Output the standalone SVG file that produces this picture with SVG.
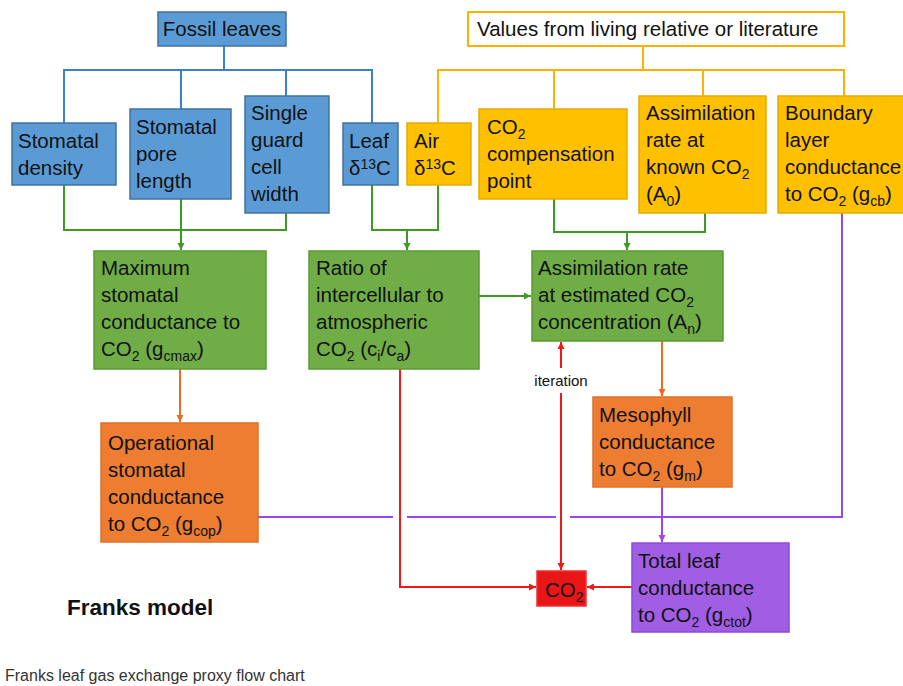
<svg xmlns="http://www.w3.org/2000/svg" width="903" height="686" viewBox="0 0 903 686">
<style>
text{font-family:"Liberation Sans",Arial,sans-serif;font-size:20.5px;fill:#111}
.sub{font-size:14px}
.blue{fill:#5B9BD5;stroke:#41719C;stroke-width:1.5}
.gold{fill:#FFC000;stroke:#E6AC00;stroke-width:1.5}
.green{fill:#70AD47;stroke:#5A9A32;stroke-width:1.5}
.orange{fill:#ED7D31;stroke:#E0702A;stroke-width:1.5}
.purple{fill:#A05EE4;stroke:#8E4AD8;stroke-width:1.5}
.red{fill:#E81616;stroke:#F03030;stroke-width:1.5}
.c{fill:none;stroke-width:2}
.lb{stroke:#3B82CC}.lo{stroke:#FFB000}.lg{stroke:#3F9A23}.lor{stroke:#F26B1D}.lp{stroke:#9A45EE}.lr{stroke:#F01818}
</style>
<defs>
<marker id="ag" markerWidth="8" markerHeight="8" refX="7" refY="4" orient="auto" markerUnits="userSpaceOnUse"><path d="M0,0.5 L7,4 L0,7.5z" fill="#3F9A23"/></marker>
<marker id="ao" markerWidth="8" markerHeight="8" refX="7" refY="4" orient="auto" markerUnits="userSpaceOnUse"><path d="M0,0.5 L7,4 L0,7.5z" fill="#F26B1D"/></marker>
<marker id="ap" markerWidth="8" markerHeight="8" refX="7" refY="4" orient="auto" markerUnits="userSpaceOnUse"><path d="M0,0.5 L7,4 L0,7.5z" fill="#9A45EE"/></marker>
<marker id="ar" markerWidth="8" markerHeight="8" refX="7" refY="4" orient="auto" markerUnits="userSpaceOnUse"><path d="M0,0.5 L7,4 L0,7.5z" fill="#F01818"/></marker>
</defs>
<rect width="903" height="686" fill="#fff"/>

<g id="connectors">
<path class="c lb" d="M224 46V70M64 123V70H372V123M181 70V109M286 70V96"/>
<path class="c lo" d="M643 46V70M438 123V70H844V96M554 70V109M703 70V96"/>
<path class="c lg" d="M64 185V230H286V213M181 199V250" marker-end="url(#ag)"/>
<path class="c lg" d="M372 185V230H438V185M407 230V250" marker-end="url(#ag)"/>
<path class="c lg" d="M554 199V232H705V213M627 232V250" marker-end="url(#ag)"/>
<path class="c lg" d="M479 296H531" marker-end="url(#ag)"/>
<path class="c lor" d="M180 369V422" marker-end="url(#ao)"/>
<path class="c lor" d="M662 341V396" marker-end="url(#ao)"/>
<path class="c lp" d="M842 213V517H570M556 517H407M393 517H258"/>
<path class="c lp" d="M662 487V542" marker-end="url(#ap)"/>
<path class="c lr" d="M400 369V587H536" marker-end="url(#ar)"/>
<path class="c lr" d="M632 587H587" marker-end="url(#ar)"/>
<path class="c lr" d="M561 368V342" marker-end="url(#ar)"/>
<path class="c lr" d="M561 393V570" marker-end="url(#ar)"/>
<text x="561" y="386" text-anchor="middle" style="font-size:15px">iteration</text>
</g>

<g id="fossil-leaves"><rect class="blue" x="158" y="12" width="128" height="34"/><text x="222" y="36" text-anchor="middle">Fossil leaves</text></g>
<g id="values"><rect x="468" y="12" width="376" height="34" fill="#fff" stroke="#FFB000" stroke-width="2"/><text x="477" y="36">Values from living relative or literature</text></g>

<g id="stomatal-density"><rect class="blue" x="12" y="123" width="104" height="62"/><text x="18" y="148">Stomatal</text><text x="18" y="175">density</text></g>
<g id="pore-length"><rect class="blue" x="130" y="109" width="101" height="90"/><text x="136" y="134">Stomatal</text><text x="136" y="161">pore</text><text x="136" y="188">length</text></g>
<g id="guard-cell"><rect class="blue" x="245" y="96" width="84" height="117"/><text x="251" y="120">Single</text><text x="251" y="147">guard</text><text x="251" y="174">cell</text><text x="251" y="201">width</text></g>
<g id="leaf-d13c"><rect class="blue" x="343" y="123" width="55" height="62"/><text x="349" y="148">Leaf</text><text x="349" y="175">δ<tspan class="sub" dy="-6">13</tspan><tspan dy="6">C</tspan></text></g>
<g id="air-d13c"><rect class="gold" x="407" y="123" width="64" height="62"/><text x="414" y="148">Air</text><text x="414" y="175">δ<tspan class="sub" dy="-6">13</tspan><tspan dy="6">C</tspan></text></g>
<g id="co2-comp"><rect class="gold" x="479" y="109" width="148" height="90"/><text x="487" y="134">CO<tspan class="sub" dy="5">2</tspan></text><text x="487" y="161">compensation</text><text x="487" y="188">point</text></g>
<g id="assim-known"><rect class="gold" x="639" y="96" width="127" height="117"/><text x="646" y="120">Assimilation</text><text x="646" y="147">rate at</text><text x="646" y="174">known CO<tspan class="sub" dy="5">2</tspan></text><text x="646" y="201">(A<tspan class="sub" dy="5">0</tspan><tspan dy="-5">)</tspan></text></g>
<g id="boundary"><rect class="gold" x="778" y="96" width="130" height="117"/><text x="785" y="120">Boundary</text><text x="785" y="147">layer</text><text x="785" y="174">conductance</text><text x="785" y="201">to CO<tspan class="sub" dy="5">2</tspan><tspan dy="-5"> (g</tspan><tspan class="sub" dy="5">cb</tspan><tspan dy="-5">)</tspan></text></g>

<g id="gcmax"><rect class="green" x="94" y="251" width="172" height="118"/><text x="101" y="275">Maximum</text><text x="101" y="302">stomatal</text><text x="101" y="329">conductance to</text><text x="101" y="356">CO<tspan class="sub" dy="5">2</tspan><tspan dy="-5"> (g</tspan><tspan class="sub" dy="5">cmax</tspan><tspan dy="-5">)</tspan></text></g>
<g id="ci-ca"><rect class="green" x="309" y="251" width="170" height="118"/><text x="316" y="275">Ratio of</text><text x="316" y="302">intercellular to</text><text x="316" y="329">atmospheric</text><text x="316" y="356">CO<tspan class="sub" dy="5">2</tspan><tspan dy="-5"> (c</tspan><tspan class="sub" dy="5">i</tspan><tspan dy="-5">/c</tspan><tspan class="sub" dy="5">a</tspan><tspan dy="-5">)</tspan></text></g>
<g id="an"><rect class="green" x="532" y="251" width="191" height="90"/><text x="538" y="275">Assimilation rate</text><text x="538" y="302">at estimated CO<tspan class="sub" dy="5">2</tspan></text><text x="538" y="329">concentration (A<tspan class="sub" dy="5">n</tspan><tspan dy="-5">)</tspan></text></g>

<g id="gcop"><rect class="orange" x="101" y="423" width="157" height="119"/><text x="108" y="450">Operational</text><text x="108" y="477">stomatal</text><text x="108" y="504">conductance</text><text x="108" y="531">to CO<tspan class="sub" dy="5">2</tspan><tspan dy="-5"> (g</tspan><tspan class="sub" dy="5">cop</tspan><tspan dy="-5">)</tspan></text></g>
<g id="gm"><rect class="orange" x="593" y="397" width="139" height="90"/><text x="599" y="422">Mesophyll</text><text x="599" y="449">conductance</text><text x="599" y="476">to CO<tspan class="sub" dy="5">2</tspan><tspan dy="-5"> (g</tspan><tspan class="sub" dy="5">m</tspan><tspan dy="-5">)</tspan></text></g>
<g id="gctot"><rect class="purple" x="632" y="543" width="157" height="89"/><text x="638" y="568">Total leaf</text><text x="638" y="595">conductance</text><text x="638" y="622">to CO<tspan class="sub" dy="5">2</tspan><tspan dy="-5"> (g</tspan><tspan class="sub" dy="5">ctot</tspan><tspan dy="-5">)</tspan></text></g>
<g id="co2"><rect class="red" x="537" y="571" width="49" height="35"/><text x="545" y="597">CO<tspan class="sub" dy="5">2</tspan></text></g>

<text x="67" y="615" style="font-weight:bold;font-size:22.5px">Franks model</text>
<text x="5" y="681" style="font-size:16px;fill:#333">Franks leaf gas exchange proxy flow chart</text>
</svg>
